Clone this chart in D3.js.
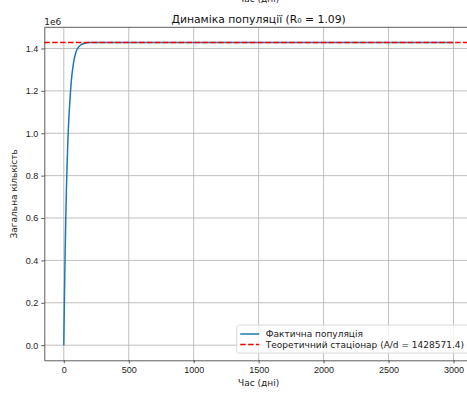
<!DOCTYPE html>
<html>
<head>
<meta charset="utf-8">
<script src="https://cdn.jsdelivr.net/npm/d3@7"></script>
<style>
  body { margin: 0; background: #fff; }
  svg { display: block; font-family: "DejaVu Sans", sans-serif; }
  .grid line { stroke: #b0b0b0; stroke-width: 0.8; }
  .tick-label { font-size: 9px; fill: #222; }
</style>
</head>
<body>
<script>
'use strict';

// days and population
var days = [0, 5, 10, 15, 20, 25, 30, 40, 50, 60, 70, 80, 90, 100, 120, 140, 160, 200, 250, 3000];
var population = [0, 230000, 420000, 590000, 730000, 840000, 940000, 1080000, 1180000, 1260000,
                  1310000, 1350000, 1375000, 1393000, 1411000, 1420000, 1425000, 1428000, 1428571, 1428571];
var steadyState = 1428571.4;
var xTicks = [0, 500, 1000, 1500, 2000, 2500, 3000];
var yTicks = [0, 200000, 400000, 600000, 800000, 1000000, 1200000, 1400000];

var myChart = {};
myChart.width = 467;
myChart.height = 393;
myChart.left = 44.3;
myChart.right = 473;
myChart.top = 27.3;
myChart.bottom = 360.3;

myChart.xScale = d3.scaleLinear().domain([-150, 3150]).range([myChart.left, myChart.right]);
myChart.yScale = d3.scaleLinear().domain([-71428.6, 1500000]).range([myChart.bottom, myChart.top]);

myChart.drawGrid = function(svg){
    var x = myChart.xScale, y = myChart.yScale;
    var g = svg.append('g').attr('class', 'grid');
    g.selectAll('.vx').data(xTicks).enter().append('line')
        .attr('x1', function(d){ return x(d); })
        .attr('x2', function(d){ return x(d); })
        .attr('y1', myChart.top).attr('y2', myChart.bottom);
    g.selectAll('.hy').data(yTicks).enter().append('line')
        .attr('y1', function(d){ return y(d); })
        .attr('y2', function(d){ return y(d); })
        .attr('x1', myChart.left).attr('x2', myChart.right);
}

myChart.drawLines = function(svg){
    var x = myChart.xScale, y = myChart.yScale;
    svg.append('clipPath').attr('id', 'clip').append('rect')
        .attr('x', myChart.left).attr('y', myChart.top)
        .attr('width', myChart.right - myChart.left)
        .attr('height', myChart.bottom - myChart.top);

    var line = d3.line()
        .x(function(d, i){ return x(days[i]); })
        .y(function(d){ return y(d); })
        .curve(d3.curveMonotoneX);

    svg.append('path')
        .datum(population)
        .attr('clip-path', 'url(#clip)')
        .attr('d', line)
        .attr('fill', 'none')
        .attr('stroke', '#1f77b4')
        .attr('stroke-width', 1.5);

    svg.append('line')
        .attr('x1', myChart.left).attr('x2', myChart.right)
        .attr('y1', y(steadyState)).attr('y2', y(steadyState))
        .attr('stroke', '#ff0000')
        .attr('stroke-width', 1.5)
        .attr('stroke-dasharray', '5.5,2.4');
}

myChart.drawAxes = function(svg){
    var x = myChart.xScale, y = myChart.yScale;

    var xAxis = svg.append('g')
        .attr('transform', 'translate(0,' + myChart.bottom + ')')
        .call(d3.axisBottom(x).tickValues(xTicks).tickSize(3).tickPadding(3).tickSizeOuter(0)
            .tickFormat(d3.format('d')));
    xAxis.select('.domain').attr('stroke', '#333').attr('stroke-width', 0.8);
    xAxis.selectAll('.tick line').attr('stroke', '#333').attr('stroke-width', 0.8);
    xAxis.selectAll('.tick text').attr('class', 'tick-label').attr('font-family', null).attr('font-size', null);

    var yAxis = svg.append('g')
        .attr('transform', 'translate(' + myChart.left + ',0)')
        .call(d3.axisLeft(y).tickValues(yTicks).tickSize(3).tickPadding(3).tickSizeOuter(0)
            .tickFormat(function(d){ return d3.format('.1f')(d / 1e6); }));
    yAxis.select('.domain').attr('stroke', '#333').attr('stroke-width', 0.8);
    yAxis.selectAll('.tick line').attr('stroke', '#333').attr('stroke-width', 0.8);
    yAxis.selectAll('.tick text').attr('class', 'tick-label').attr('font-family', null).attr('font-size', null);

    // top spine
    svg.append('line')
        .attr('x1', myChart.left).attr('x2', myChart.right)
        .attr('y1', myChart.top).attr('y2', myChart.top)
        .attr('stroke', '#333').attr('stroke-width', 0.8);
}

myChart.drawTexts = function(svg){
    var cx = (myChart.left + myChart.right) / 2;

    // label of the panel above, cut off by the crop
    svg.append('text').attr('x', cx).attr('y', 2)
        .attr('text-anchor', 'middle').attr('font-size', 9).attr('fill', '#222')
        .text('Час (дні)');

    svg.append('text').attr('x', cx).attr('y', 23)
        .attr('text-anchor', 'middle').attr('font-size', 10.8).attr('fill', '#111')
        .text('Динаміка популяції (R₀ = 1.09)');

    svg.append('text').attr('x', myChart.left).attr('y', 24.5)
        .attr('font-size', 9).attr('fill', '#222')
        .text('1e6');

    svg.append('text').attr('x', cx).attr('y', 386)
        .attr('text-anchor', 'middle').attr('font-size', 9).attr('fill', '#222')
        .text('Час (дні)');

    svg.append('text')
        .attr('transform', 'translate(17,' + (myChart.top + myChart.bottom) / 2 + ') rotate(-90)')
        .attr('text-anchor', 'middle').attr('font-size', 9).attr('fill', '#222')
        .text('Загальна кількість');
}

myChart.drawLegend = function(svg){
    var items = [
        { label: 'Фактична популяція', color: '#1f77b4', dash: null },
        { label: 'Теоретичний стаціонар (A/d = ' + steadyState.toFixed(1) + ')', color: '#ff0000', dash: '5.5,2.4' }
    ];
    var g = svg.append('g').attr('transform', 'translate(236.7,325)');
    g.append('rect')
        .attr('width', 238).attr('height', 28)
        .attr('rx', 2)
        .attr('fill', 'rgba(255,255,255,0.8)')
        .attr('stroke', '#d0d0d0').attr('stroke-width', 0.8);

    var rows = g.selectAll('.row').data(items).enter().append('g')
        .attr('transform', function(d, i){ return 'translate(0,' + (9 + i * 10.5) + ')'; });
    rows.append('line')
        .attr('x1', 3.5).attr('x2', 22.5)
        .attr('stroke', function(d){ return d.color; })
        .attr('stroke-width', 1.5)
        .attr('stroke-dasharray', function(d){ return d.dash; });
    rows.append('text')
        .attr('x', 29).attr('y', 3.2)
        .attr('font-size', 9).attr('fill', '#222')
        .text(function(d){ return d.label; });
}

myChart.run = function(){
    var svg = d3.select('body').append('svg')
        .attr('width', myChart.width)
        .attr('height', myChart.height);
    myChart.drawGrid(svg);
    myChart.drawLines(svg);
    myChart.drawAxes(svg);
    myChart.drawTexts(svg);
    myChart.drawLegend(svg);
}

window.onload = myChart.run;
</script>
</body>
</html>
